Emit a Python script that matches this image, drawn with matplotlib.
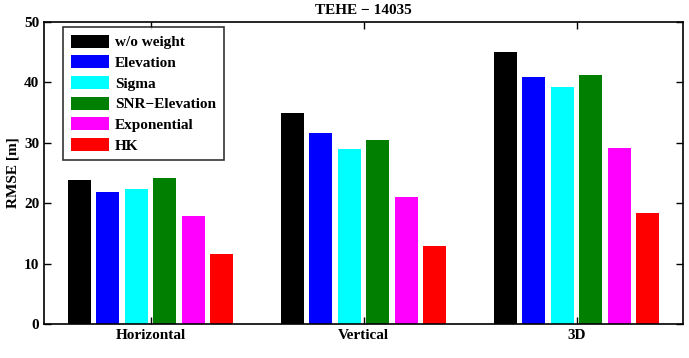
import matplotlib
matplotlib.use("Agg")
import matplotlib.pyplot as plt
import numpy as np

categories = ["Horizontal", "Vertical", "3D"]
series_names = ["w/o weight", "Elevation", "Sigma", "SNR\u2212Elevation", "Exponential", "HK"]
colors = ["#000000", "#0000ff", "#00ffff", "#007f00", "#ff00ff", "#ff0000"]
values = {
    "w/o weight":      [23.8, 34.9, 45.0],
    "Elevation":       [21.8, 31.6, 40.9],
    "Sigma":           [22.3, 29.0, 39.3],
    "SNR\u2212Elevation": [24.2, 30.4, 41.3],
    "Exponential":     [17.8, 21.0, 29.2],
    "HK":              [11.6, 12.9, 18.4],
}
title = "TEHE \u2212 14035"
ylabel = "RMSE [m]"
yticks = [0, 10, 20, 30, 40, 50]

plt.rcParams['font.family'] = ['Liberation Serif', 'DejaVu Serif']
plt.rcParams['font.weight'] = 'bold'

fig = plt.figure(figsize=(6.89, 3.58), dpi=100)
ax = fig.add_axes([44/689, 1 - 324/358, (683-44)/689, (324-22)/358])

x = np.arange(1, len(categories) + 1)
n = len(series_names)
step = 0.134
width = 0.108
for i, name in enumerate(series_names):
    offs = (i - (n - 1) / 2) * step
    ax.bar(x + offs, values[name], width=width, color=colors[i], label=name,
           edgecolor='none')

fs = 11
ax.set_xlim(0.5, 3.5)
ax.set_ylim(0, 50)
ax.set_xticks(x)
ax.set_xticklabels(categories, fontsize=fs, fontweight='bold')
ax.set_yticks(yticks)
ax.set_yticklabels([str(t) for t in yticks], fontsize=fs, fontweight='bold')
ax.tick_params(direction='in', top=True, right=True, length=5, width=1, pad=3.5)
for s in ax.spines.values():
    s.set_linewidth(1.2)
ax.set_ylabel(ylabel, fontsize=fs, fontweight='bold', labelpad=3)
ax.set_title(title, fontsize=fs, fontweight='bold', pad=6)

leg = ax.legend(loc='upper left', bbox_to_anchor=(19/639, 1 - 5/302), fontsize=fs,
                frameon=True, fancybox=False, edgecolor='black', handlelength=2.5,
                handleheight=0.95, labelspacing=0.38, borderpad=0.5,
                handletextpad=0.4, borderaxespad=0)
leg.get_frame().set_linewidth(1.2)
for t in leg.get_texts():
    t.set_fontweight('bold')

fig.savefig("out.png", dpi=100)
